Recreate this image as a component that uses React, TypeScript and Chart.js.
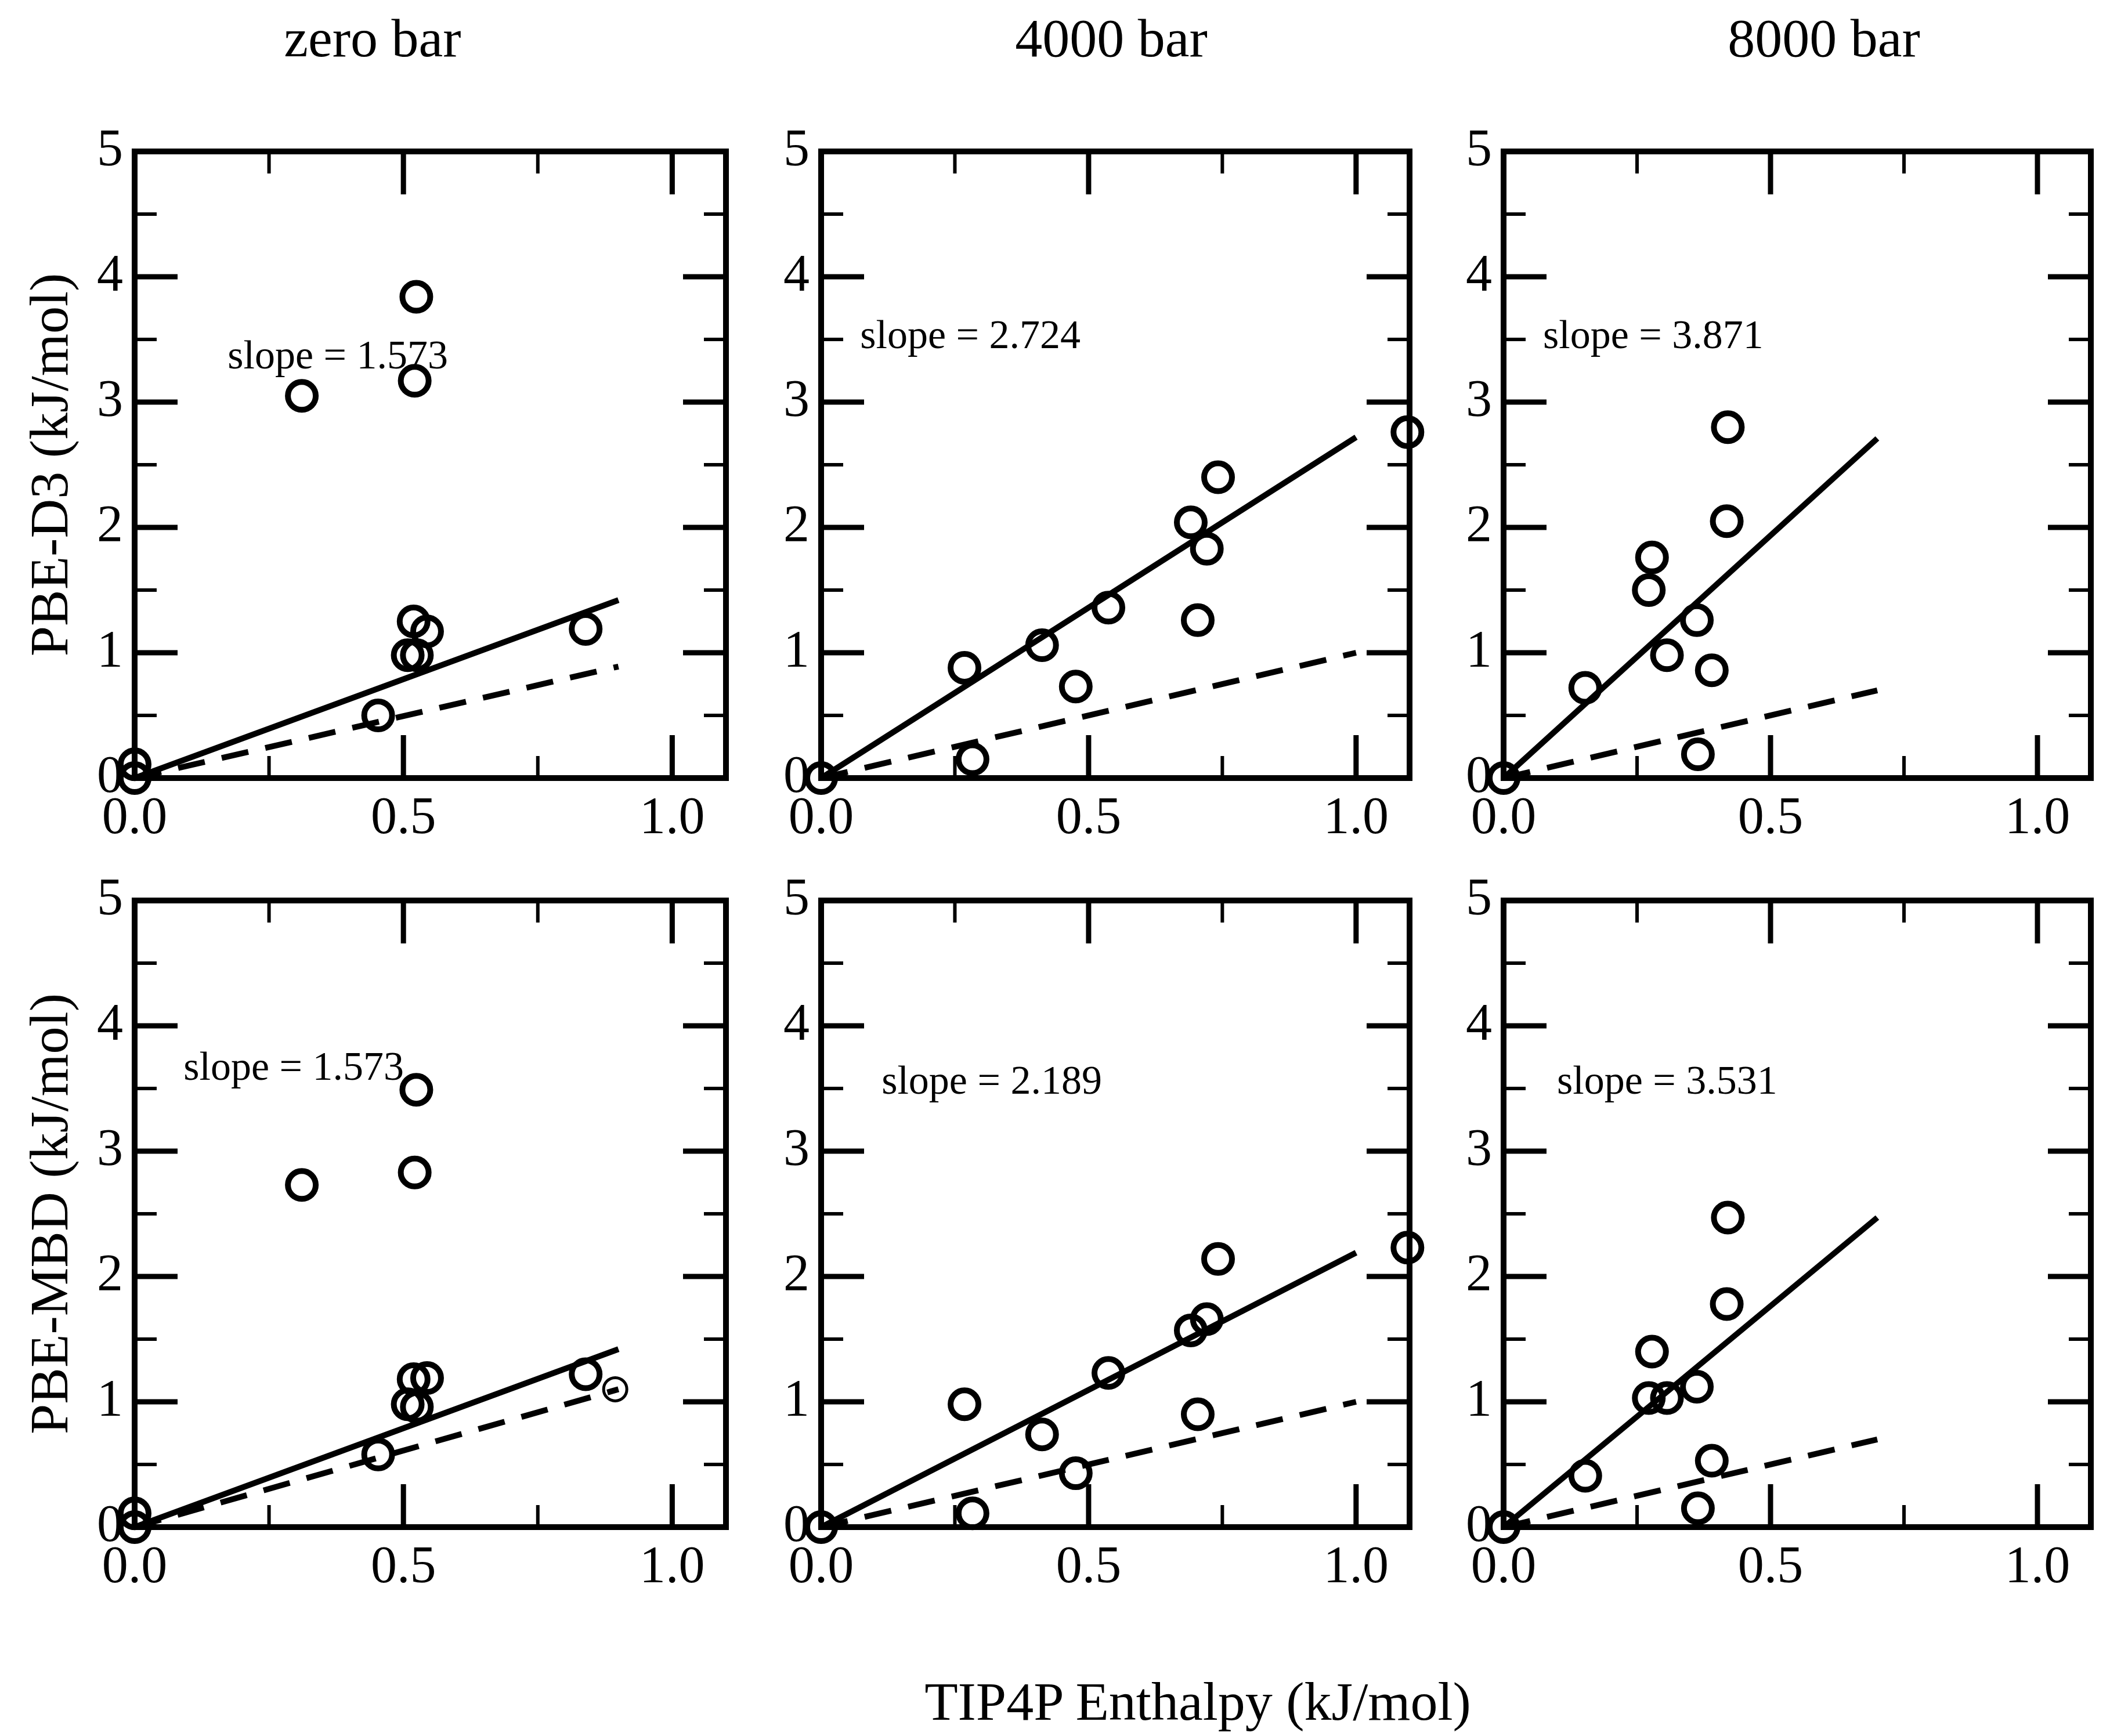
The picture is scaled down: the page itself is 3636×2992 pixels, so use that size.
import { useEffect, useRef } from "react"
import { Chart, registerables } from "chart.js"

Chart.register(...registerables)

const FONT = '"Liberation Serif", "Times New Roman", serif'

// axis ranges and ticks
const X_MIN = 0
const X_MAX = 1.1
const Y_MIN = 0
const Y_MAX = 5
const X_MAJOR = [0, 0.5, 1.0]
const X_MINOR = [0.25, 0.75]
const Y_MAJOR = [0, 1, 2, 3, 4, 5]
const Y_MINOR = [0.5, 1.5, 2.5, 3.5, 4.5]

const PRESSURES = ["zero bar", "4000 bar", "8000 bar"]
const METHODS = ["PBE-D3 (kJ/mol)", "PBE-MBD (kJ/mol)"]
const X_TITLE = "TIP4P Enthalpy (kJ/mol)"

// TIP4P enthalpies (x) per pressure
const ZERO_X = [0, 0, 0.311, 0.524, 0.521, 0.519, 0.544, 0.508, 0.525, 0.453, 0.839]
const K4_X = [0, 0.268, 0.283, 0.413, 0.476, 0.537, 0.691, 0.721, 0.704, 0.742, 1.096]
const K8_X = [0, 0.153, 0.278, 0.272, 0.306, 0.362, 0.39, 0.364, 0.42, 0.418]

// PBE-D3 values
const ZERO_D3 = [0.11, 0, 3.05, 3.84, 3.17, 1.25, 1.17, 0.98, 0.98, 0.5, 1.19]
const K4_D3 = [0, 0.88, 0.15, 1.06, 0.73, 1.36, 2.04, 1.83, 1.26, 2.4, 2.76]
const K8_D3 = [0, 0.72, 1.76, 1.5, 0.98, 1.26, 0.86, 0.19, 2.8, 2.05]

// PBE-MBD values
const ZERO_MBD = [0.11, 0, 2.73, 3.49, 2.83, 1.18, 1.19, 0.98, 0.96, 0.58, 1.22]
const K4_MBD = [0, 0.98, 0.11, 0.74, 0.43, 1.23, 1.57, 1.66, 0.9, 2.14, 2.23]
const K8_MBD = [0, 0.41, 1.4, 1.03, 1.03, 1.12, 0.53, 0.15, 2.47, 1.78]

// the lone thin circle in the MBD zero bar panel
const ZERO_MBD_EXTRA_X = [0.894]
const ZERO_MBD_EXTRA_Y = [1.1]

// fit lines through the origin: end points
const FIT_END_X = [0.9, 1.0, 0.7]
const D3_FIT_END_Y = [1.42, 2.72, 2.71]
const MBD_FIT_END_Y = [1.42, 2.19, 2.47]
const D3_REF_END_Y = [0.89, 1.0, 0.7]
const MBD_REF_END_Y = [1.1, 1.0, 0.7]

const D3_SLOPES = ["1.573", "2.724", "3.871"]
const MBD_SLOPES = ["1.573", "2.189", "3.531"]

// layout (page pixels)
const COL_LEFT = [232, 1415, 2591]
const COL_W = [1019, 1014, 1012]
const ROW_TOP = [261, 1552]
const PLOT_H = 1080
const AX_W = 120
const AX_H = 150
const PAD_T = 60
const PAD_R = 80
const TITLE_X = [642, 1915, 3143]

// slope label anchor (data units, left / baseline)
const LABEL_POS = [
  [
    [0.173, 3.27],
    [0.073, 3.43],
    [0.074, 3.43],
  ],
  [
    [0.091, 3.57],
    [0.113, 3.46],
    [0.1, 3.46],
  ],
]

const pts = (xs: number[], ys: number[]) => xs.map((x, i) => ({ x, y: ys[i] }))

const framePlugin = {
  id: "xmgraceFrame",
  beforeDatasetsDraw(chart: any) {
    const { ctx, chartArea, scales } = chart
    const { left, right, top, bottom } = chartArea
    ctx.save()
    ctx.strokeStyle = "#000"
    ctx.lineCap = "butt"
    ctx.lineWidth = 10
    ctx.strokeRect(left, top, right - left, bottom - top)
    const tickX = (vals: number[], len: number, w: number) => {
      ctx.lineWidth = w
      ctx.beginPath()
      vals.forEach((v) => {
        const px = scales.x.getPixelForValue(v)
        if (px > left + 2 && px < right - 2) {
          ctx.moveTo(px, bottom)
          ctx.lineTo(px, bottom - len)
          ctx.moveTo(px, top)
          ctx.lineTo(px, top + len)
        }
      })
      ctx.stroke()
    }
    const tickY = (vals: number[], len: number, w: number) => {
      ctx.lineWidth = w
      ctx.beginPath()
      vals.forEach((v) => {
        const py = scales.y.getPixelForValue(v)
        if (py > top + 2 && py < bottom - 2) {
          ctx.moveTo(left, py)
          ctx.lineTo(left + len, py)
          ctx.moveTo(right, py)
          ctx.lineTo(right - len, py)
        }
      })
      ctx.stroke()
    }
    tickX(X_MAJOR, 74, 9)
    tickX(X_MINOR, 38, 6)
    tickY(Y_MAJOR, 74, 9)
    tickY(Y_MINOR, 38, 6)
    ctx.restore()
  },
  afterDatasetsDraw(chart: any, _args: any, opts: any) {
    if (!opts || !opts.text) return
    const { ctx, scales } = chart
    ctx.save()
    ctx.fillStyle = "#000"
    ctx.font = `70px ${FONT}`
    ctx.textAlign = "left"
    ctx.textBaseline = "alphabetic"
    ctx.fillText(opts.text, scales.x.getPixelForValue(opts.x), scales.y.getPixelForValue(opts.y))
    ctx.restore()
  },
}

function Panel({ row, col }: { row: number; col: number }) {
  const chartRef = useRef<HTMLCanvasElement>(null)
  const chartInstance = useRef<Chart | null>(null)

  useEffect(() => {
    if (!chartRef.current) return
    if (chartInstance.current) chartInstance.current.destroy()
    const ctx = chartRef.current.getContext("2d")
    if (!ctx) return

    const xs = [ZERO_X, K4_X, K8_X][col]
    const ys = row === 0 ? [ZERO_D3, K4_D3, K8_D3][col] : [ZERO_MBD, K4_MBD, K8_MBD][col]
    const fitY = (row === 0 ? D3_FIT_END_Y : MBD_FIT_END_Y)[col]
    const refY = (row === 0 ? D3_REF_END_Y : MBD_REF_END_Y)[col]
    const slope = (row === 0 ? D3_SLOPES : MBD_SLOPES)[col]
    const [lx, ly] = LABEL_POS[row][col]

    const datasets: any[] = [
      {
        type: "line",
        data: [
          { x: 0, y: 0 },
          { x: FIT_END_X[col], y: fitY },
        ],
        borderColor: "#000",
        borderWidth: 10,
        pointRadius: 0,
        fill: false,
        clip: false,
      },
      {
        type: "line",
        data: [
          { x: 0, y: 0 },
          { x: FIT_END_X[col], y: refY },
        ],
        borderColor: "#000",
        borderWidth: 10,
        borderDash: [47, 30],
        pointRadius: 0,
        fill: false,
        clip: false,
      },
      {
        type: "scatter",
        data: pts(xs, ys),
        borderColor: "#000",
        backgroundColor: "rgba(0,0,0,0)",
        pointRadius: 24,
        pointBorderWidth: 10,
        borderWidth: 10,
        clip: false,
      },
    ]
    if (row === 1 && col === 0) {
      datasets.push({
        type: "scatter",
        data: pts(ZERO_MBD_EXTRA_X, ZERO_MBD_EXTRA_Y),
        borderColor: "#000",
        backgroundColor: "rgba(0,0,0,0)",
        pointRadius: 20,
        pointBorderWidth: 5,
        borderWidth: 5,
        clip: false,
      })
    }

    chartInstance.current = new Chart(ctx, {
      type: "scatter",
      data: { datasets },
      plugins: [framePlugin],
      options: {
        animation: false,
        responsive: true,
        maintainAspectRatio: false,
        events: [],
        layout: { padding: { top: PAD_T, right: PAD_R, left: 0, bottom: 0 } },
        scales: {
          x: {
            type: "linear",
            min: X_MIN,
            max: X_MAX,
            grid: { display: false },
            border: { display: false },
            afterBuildTicks: (s: any) => {
              s.ticks = X_MAJOR.map((value) => ({ value }))
            },
            afterFit: (s: any) => {
              s.height = AX_H
            },
            ticks: {
              autoSkip: false,
              maxRotation: 0,
              padding: 18,
              color: "#000",
              font: { family: FONT, size: 90, lineHeight: 1 },
              callback: (v: any) => Number(v).toFixed(1),
            },
          },
          y: {
            type: "linear",
            min: Y_MIN,
            max: Y_MAX,
            grid: { display: false },
            border: { display: false },
            afterBuildTicks: (s: any) => {
              s.ticks = Y_MAJOR.map((value) => ({ value }))
            },
            afterFit: (s: any) => {
              s.width = AX_W
            },
            ticks: {
              autoSkip: false,
              padding: 12,
              color: "#000",
              font: { family: FONT, size: 90, lineHeight: 1 },
              callback: (v: any) => String(v),
            },
          },
        },
        plugins: {
          legend: { display: false },
          tooltip: { enabled: false },
          xmgraceFrame: { text: `slope = ${slope}`, x: lx, y: ly },
        } as any,
      },
    } as any)

    return () => {
      if (chartInstance.current) {
        chartInstance.current.destroy()
        chartInstance.current = null
      }
    }
  }, [row, col])

  const left = COL_LEFT[col] - AX_W
  const top = ROW_TOP[row] - PAD_T
  const width = COL_W[col] + AX_W + PAD_R
  const height = PLOT_H + PAD_T + AX_H

  return (
    <div style={{ position: "absolute", left, top, width, height }}>
      <canvas ref={chartRef}></canvas>
    </div>
  )
}

const textStyle = (size: number): any => ({
  position: "absolute",
  fontFamily: FONT,
  fontSize: size,
  lineHeight: 1,
  color: "#000",
  whiteSpace: "nowrap",
})

export default function App() {
  return (
    <div style={{ position: "absolute", left: 0, top: 0, width: 3636, height: 2992, background: "#fff", overflow: "hidden" }}>
      {PRESSURES.map((p, i) => (
        <div key={p} style={{ ...textStyle(94), left: TITLE_X[i], top: 18, transform: "translateX(-50%)" }}>
          {p}
        </div>
      ))}
      {METHODS.map((m, r) => (
        <div
          key={m}
          style={{
            ...textStyle(94),
            left: 84,
            top: ROW_TOP[r] + PLOT_H / 2,
            transform: "translate(-50%, -50%) rotate(-90deg)",
          }}
        >
          {m}
        </div>
      ))}
      <div style={{ ...textStyle(94), left: 2064, top: 2885, transform: "translateX(-50%)" }}>{X_TITLE}</div>
      {[0, 1].map((r) => [0, 1, 2].map((c) => <Panel key={`${r}-${c}`} row={r} col={c} />))}
    </div>
  )
}
